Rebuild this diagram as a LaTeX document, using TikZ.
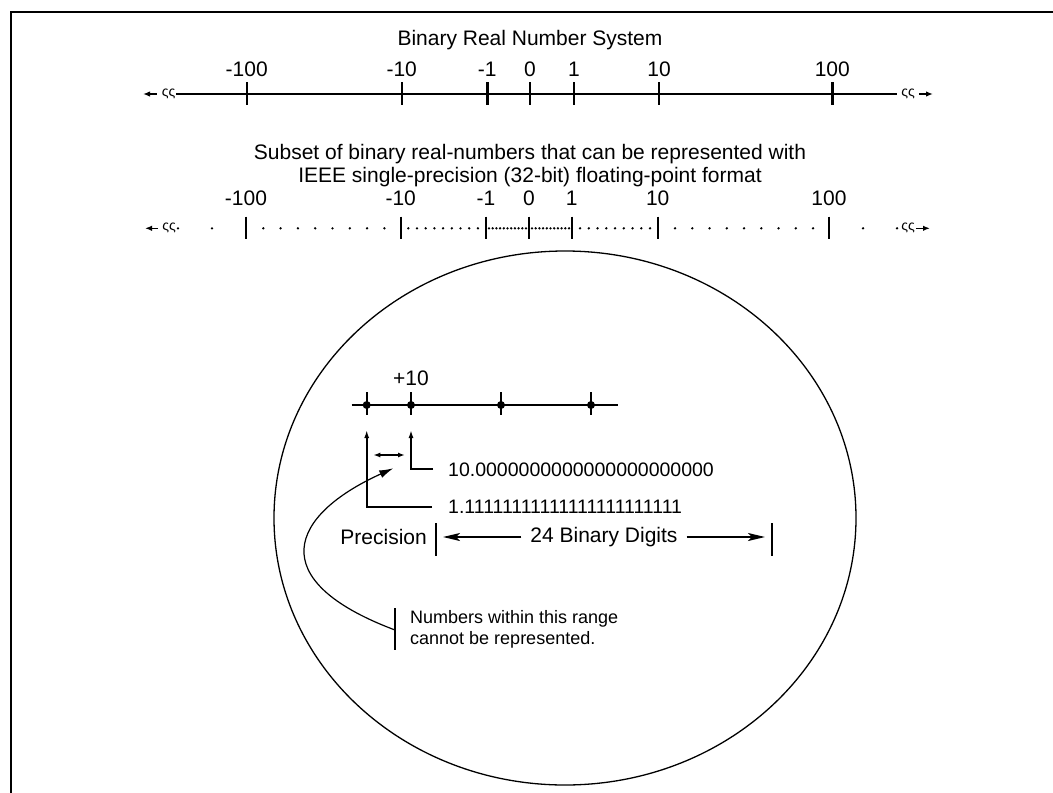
\documentclass[tikz,border=0pt]{standalone}
\usepackage{fontspec}
\setmainfont{Liberation Sans}
\usetikzlibrary{arrows.meta}
\newcommand{\labelfont}{\fontsize{21}{23}\selectfont}
\newcommand{\digitfont}{\fontsize{19.5}{23}\selectfont}
\newcommand{\notefont}{\fontsize{18}{21}\selectfont}
\newcommand{\breakfont}{\fontsize{14}{14}\selectfont}

\begin{document}
\begin{tikzpicture}[x=1pt,y=-1pt,
  numline/.style={line width=2pt},
  tickmark/.style={line width=2.4pt},
  thinline/.style={line width=1.3pt},
  endarrow/.style={line width=1.6pt,-{Latex[length=7pt,width=5.5pt]}},
  uparrow/.style={line width=1.8pt,-{Latex[length=8pt,width=5pt]}},
  bigarrow/.style={line width=1.8pt,-{Stealth[length=17pt,width=8pt,inset=4pt]}},
  dot/.style={circle,fill,inner sep=0pt,minimum size=2.6pt},
  bigdot/.style={circle,fill,inner sep=0pt,minimum size=8pt},
  lbl/.style={font=\labelfont,inner sep=0pt},
  brk/.style={font=\breakfont,inner sep=0pt}]
\useasboundingbox (0,0) rectangle (1053,793);
% frame
\draw[thinline] (1053,12) -- (11,12) -- (11,793);

% real number line
\node[lbl] (title) at (530,40) {Binary Real Number System};
\coordinate (r1L) at (176,94);
\coordinate (r1R) at (897,94);
\draw[numline] (r1L) -- (r1R);
\foreach \x/\t [count=\i] in {246.7/-100,401.7/-10,487.3/-1,530/0,574/1,659/10,832.3/100}{
  \coordinate (a\i) at (\x,94);
  \draw[tickmark] ([yshift=12]a\i) -- ([yshift=-11]a\i);
  \node[lbl] (la\i) at (\x,69) {\t};
}
\node[brk] (b1L) at (168.5,94) {ςς};
\node[brk] (b1R) at (908,94) {ςς};
\coordinate (e1L) at (143,94);
\coordinate (e1R) at (933,94);
\draw[endarrow] ([xshift=-5]b1L.west) -- (e1L);
\draw[endarrow] ([xshift=4]b1R.east) -- (e1R);

% floating-point subset
\node[lbl,align=center] (subset) at (530,166)
  {Subset of binary real-numbers that can be represented with\\
   IEEE single-precision (32-bit) floating-point format};
\foreach \x/\t [count=\i] in {246/-100,400.7/-10,486/-1,529/0,571.7/1,657.7/10,829/100}{
  \coordinate (c\i) at (\x,228.3);
  \draw[tickmark] ([yshift=11.6]c\i) -- ([yshift=-11]c\i);
  \node[lbl] (lc\i) at (\x,198) {\t};
}
\foreach \x [count=\i] in {178,212,863,897}
  \node[dot] (dO\i) at (\x,228.3) {};
\foreach \k in {0,...,7}
  \node[dot] (dA\k) at (263.3+17.3*\k,228.3) {};
\foreach \k in {0,...,8}
  \node[dot] (dB\k) at (408.3+8.7*\k,228.3) {};
\foreach \k in {0,...,10}
  \node[dot] (dC\k) at (489+3.7*\k,228.3) {};
\foreach \k in {0,...,10}
  \node[dot] (dD\k) at (532+3.7*\k,228.3) {};
\foreach \k in {0,...,8}
  \node[dot] (dE\k) at (580+8.75*\k,228.3) {};
\foreach \k in {0,...,8}
  \node[dot] (dF\k) at (675+17.25*\k,228.3) {};
\node[brk] (b2L) at (169,228.3) {ςς};
\node[brk] (b2R) at (908,228.3) {ςς};
\coordinate (e2L) at (145,228.3);
\coordinate (e2R) at (930,228.3);
\draw[endarrow] ([xshift=-4]b2L.west) -- (e2L);
\draw[endarrow] ([xshift=1]b2R.east) -- (e2R);

% magnified view
\draw[thinline] (565,518) ellipse [x radius=291, y radius=267];
\coordinate (zL) at (351.7,405);
\coordinate (zR) at (618.3,405);
\draw[numline] (zL) -- (zR);
\foreach \x [count=\i] in {366.7,411,501,591}{
  \coordinate (z\i) at (\x,405);
  \draw[line width=2pt] ([yshift=13]z\i) -- ([yshift=-10]z\i);
  \node[bigdot] (zd\i) at (z\i) {};
}
\node[lbl] (plus) at (411,378) {+10};

\node[lbl,font=\digitfont,anchor=west] (tens) at (448,469.3) {10.0000000000000000000000};
\node[lbl,font=\digitfont,anchor=west] (ones) at (448,507) {1.11111111111111111111111};
\coordinate (tipA) at (366.7,430);
\coordinate (tipB) at (411,430);
\draw[uparrow] ([xshift=-15]tens.west) -| (tipB);
\draw[uparrow] ([xshift=-16]ones.west) -| (tipA);

\coordinate (gapL) at (373.3,455);
\coordinate (gapR) at (405,455);
\draw[line width=1.6pt,{Latex[length=7pt,width=5pt]}-{Latex[length=7pt,width=5pt]}] (gapL) -- (gapR);

% precision
\node[lbl,anchor=east] (prec) at (427,537) {Precision};
\coordinate (pbL) at (436,537);
\coordinate (pbR) at (771.7,537);
\draw[tickmark] ([yshift=14]pbL) -- ([yshift=-19]pbL);
\draw[tickmark] ([yshift=14]pbR) -- ([yshift=-19]pbR);
\node[lbl,inner sep=9pt] (digits) at (604,537) {24 Binary Digits};
\draw[bigarrow] (digits.west) -- ([xshift=7]pbL);
\draw[bigarrow] (digits.east) -- ([xshift=-6.7]pbR);

% note
\coordinate (nbT) at (395,608);
\coordinate (nbB) at (395,650);
\coordinate (nb) at (395,630);
\coordinate (gapTip) at (393.3,468.3);
\draw[line width=1.8pt] (nbT) -- (nbB);
\node[anchor=west,align=left,inner sep=0pt,font=\notefont] (note) at (410,629)
  {Numbers within this range\\cannot be represented.};
\draw[line width=1.2pt,-{Latex[length=14pt,width=8pt]}] (nb) .. controls (262,580) and (290,515) .. (gapTip);
\end{tikzpicture}
\end{document}
